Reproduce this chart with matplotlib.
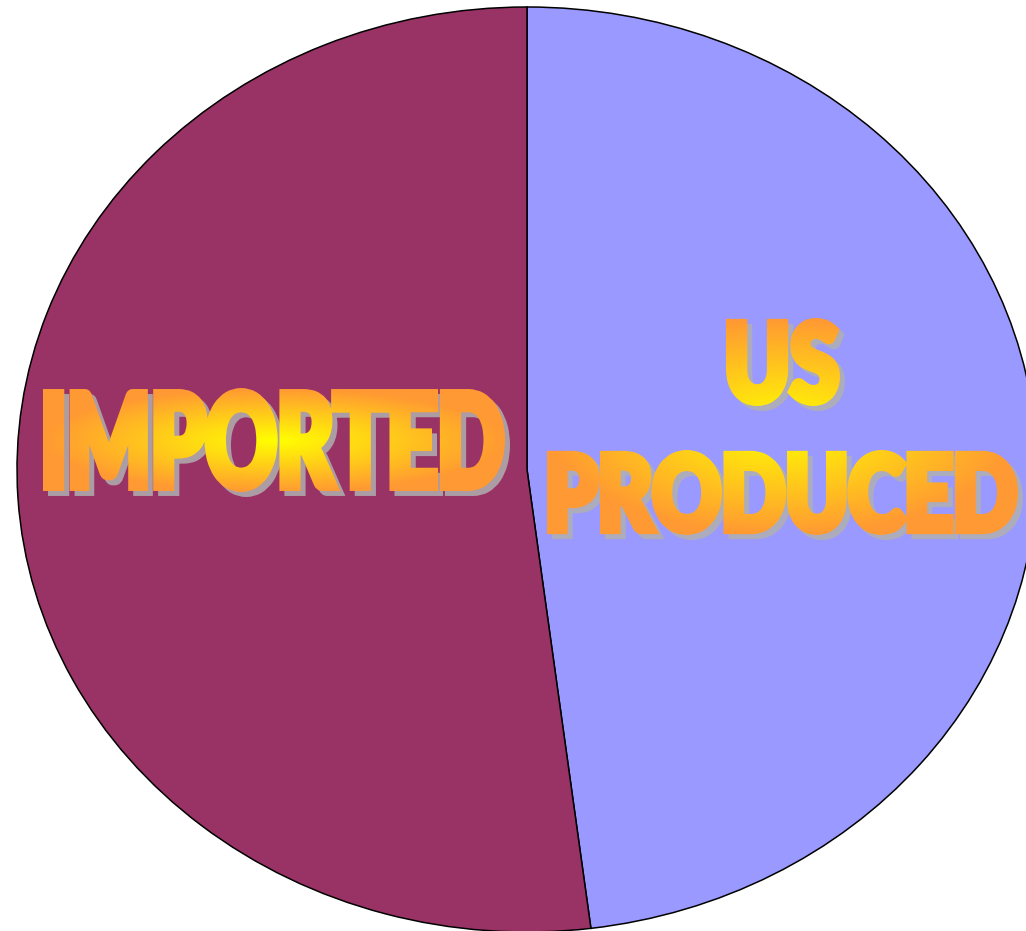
import os
import numpy as np
import matplotlib
matplotlib.use('Agg')
import matplotlib.pyplot as plt
import matplotlib.font_manager as fm
from matplotlib.patheffects import AbstractPathEffect
from matplotlib.transforms import Affine2D
from matplotlib.backends.backend_agg import RendererAgg

# ---------------- data ----------------
categories = ['US PRODUCED', 'IMPORTED']
shares = [48, 52]
slice_colors = ['#9999FF', '#993366']
label_texts = ['US', 'PRODUCED', 'IMPORTED']

# ---------------- style / layout ----------------
W_PX, H_PX, DPI = 1026, 931, 100
CX, CY, RX, RY = 527.0, 469.5, 510.0, 462.5   # ellipse centre / radii in px (top origin)

# pixel boxes (left, top, right, bottom), top-origin
BOX_US = (726, 318, 840, 406)
BOX_PRODUCED = (547, 450, 1018, 535)
BOX_IMPORTED = (43, 388, 505, 492)
GRAD_US = (547, 318, 1018, 535)
GRAD_IMP = (43, 388, 505, 492)

YELLOW = np.array([255, 255, 0], float)
ORANGE = np.array([255, 153, 51], float)
SHADOW_RGB = np.array([176, 176, 176], float)
FLIP = True
GROW = 4.0


def pick_font():
    prefs = ['notosans-extracondensedblack', 'notosans-condensedblack',
             'notosans-extracondensedextrabold', 'robotocondensed-black',
             'notosans-black', 'lato-black', 'roboto-black',
             'dejavusanscondensed-bold']
    files = {}
    for f in fm.fontManager.ttflist:
        key = os.path.splitext(os.path.basename(f.fname))[0].lower()
        files.setdefault(key, f.fname)
    for p in prefs:
        if p in files:
            return fm.FontProperties(fname=files[p]), p
    return fm.FontProperties(family='DejaVu Sans', weight='bold', stretch='condensed'), 'dejavu'


class WordArt(AbstractPathEffect):
    def __init__(self, box, grad_box, grow=1.5, shadow=(5, 5)):
        super().__init__()
        self.box = box
        self.grad = grad_box
        self.grow = grow
        self.shadow = shadow

    def draw_path(self, renderer, gc, tpath, affine, rgbFace=None):
        W, H = int(renderer.width), int(renderer.height)
        ext = affine.transform_path(tpath).get_extents()
        l, t, r, b = self.box
        g = self.grow
        sx = (r - l - 2 * g) / ext.width
        sy = (b - t - 2 * g) / ext.height
        fit = (Affine2D().translate(-ext.x0, -ext.y0).scale(sx, sy)
               .translate(l + g, (H - b) + g))
        full = affine + fit
        off = RendererAgg(W, H, renderer.dpi)
        g2 = off.new_gc()
        g2.set_foreground('black')
        g2.set_linewidth(max(2 * g, 0.01) * 72.0 / renderer.dpi)
        g2.set_joinstyle('miter')
        g2.set_antialiased(True)
        off.draw_path(g2, tpath, full, (0, 0, 0, 1))
        g2.restore()
        mask = np.asarray(off.buffer_rgba())[..., 3].astype(float) / 255.0

        gl, gt, gr, gb = self.grad
        yy, xx = np.mgrid[0:H, 0:W]
        cx, cy = (gl + gr) / 2, (gt + gb) / 2
        tt = np.sqrt(((xx - cx) / ((gr - gl) / 2)) ** 2 + ((yy - cy) / ((gb - gt) / 2)) ** 2)
        tt = np.clip(tt, 0, 1)[..., None]
        rgb = YELLOW * (1 - tt) + ORANGE * tt

        dx, dy = self.shadow
        sh = np.zeros_like(mask)
        sh[dy:, dx:] = mask[:-dy, :-dx]
        simg = np.zeros((H, W, 4), np.uint8)
        simg[..., :3] = SHADOW_RGB.astype(np.uint8)
        simg[..., 3] = np.clip(sh * 0.85 * 255, 0, 255).astype(np.uint8)
        timg = np.zeros((H, W, 4), np.uint8)
        timg[..., :3] = np.clip(rgb, 0, 255).astype(np.uint8)
        timg[..., 3] = np.clip(mask * 255, 0, 255).astype(np.uint8)
        if FLIP:
            simg = simg[::-1].copy()
            timg = timg[::-1].copy()
        gc0 = renderer.new_gc()
        renderer.draw_image(gc0, 0, 0, simg)
        renderer.draw_image(gc0, 0, 0, timg)
        gc0.restore()


fig = plt.figure(figsize=(W_PX / DPI, H_PX / DPI), dpi=DPI)
fig.patch.set_facecolor('white')
ax = fig.add_axes([0, 0, 1, 1])
ax.pie(shares, colors=slice_colors, startangle=90, counterclock=False,
       wedgeprops=dict(edgecolor='black', linewidth=1.1))
ax.set_aspect('auto')
ax.set_xlim(-CX / RX, (W_PX - CX) / RX)
ax.set_ylim(-(H_PX - CY) / RY, CY / RY)
ax.axis('off')

fp, fname = pick_font()
boxes = [BOX_US, BOX_PRODUCED, BOX_IMPORTED]
grads = [GRAD_US, GRAD_US, GRAD_IMP]
for txt, box, grad in zip(label_texts, boxes, grads):
    x = ((box[0] + box[2]) / 2 - CX) / RX
    y = (CY - (box[1] + box[3]) / 2) / RY
    ax.text(x, y, txt, fontproperties=fp, fontsize=60, color='#FF9933',
            ha='center', va='center',
            path_effects=[WordArt(box, grad, grow=GROW)])

fig.savefig('out.png', dpi=DPI, facecolor='white')
